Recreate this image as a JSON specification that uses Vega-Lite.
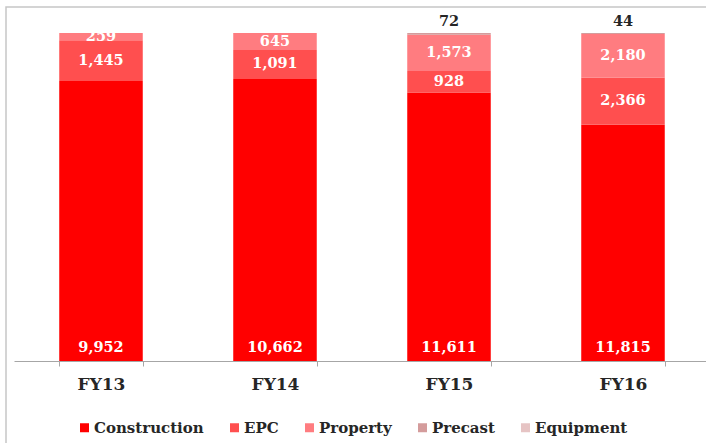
{
  "$schema": "https://vega.github.io/schema/vega-lite/v6.json",
  "width": 720,
  "height": 450,
  "autosize": {"type": "none"},
  "padding": {"left": 6, "top": 7, "right": 0, "bottom": 0},
  "background": "white",
  "config": {
    "view": {"stroke": "#C6C6C6", "strokeWidth": 1.5},
    "font": "DejaVu Serif"
  },
  "data": {
    "values": [
      {"year": "FY13", "segment": "Construction", "value": 9952},
      {"year": "FY13", "segment": "EPC", "value": 1445},
      {"year": "FY13", "segment": "Property", "value": 259},
      {"year": "FY14", "segment": "Construction", "value": 10662},
      {"year": "FY14", "segment": "EPC", "value": 1091},
      {"year": "FY14", "segment": "Property", "value": 645},
      {"year": "FY15", "segment": "Construction", "value": 11611},
      {"year": "FY15", "segment": "EPC", "value": 928},
      {"year": "FY15", "segment": "Property", "value": 1573},
      {"year": "FY15", "segment": "Precast", "value": 72},
      {"year": "FY16", "segment": "Construction", "value": 11815},
      {"year": "FY16", "segment": "EPC", "value": 2366},
      {"year": "FY16", "segment": "Property", "value": 2180},
      {"year": "FY16", "segment": "Precast", "value": 44}
    ]
  },
  "transform": [
    {"calculate": "indexof(['Construction','EPC','Property','Precast','Equipment'], datum.segment)", "as": "rank"},
    {"stack": "value", "groupby": ["year"], "sort": [{"field": "rank", "order": "ascending"}], "offset": "normalize", "as": ["y0", "y1"]},
    {"calculate": "(datum.y0 + datum.y1) / 2", "as": "ymid"}
  ],
  "encoding": {
    "x": {
      "field": "year",
      "type": "nominal",
      "scale": {"range": [8, 704], "paddingInner": 0.52, "paddingOuter": 0.26},
      "axis": {
        "title": null,
        "orient": "bottom",
        "offset": -96,
        "labelAngle": 0,
        "labelFontSize": 17,
        "labelFontWeight": "bold",
        "labelColor": "#262626",
        "labelPadding": 10,
        "domainColor": "#A6A6A6",
        "tickColor": "#A6A6A6",
        "tickSize": 5,
        "tickBand": "extent",
        "grid": false
      }
    }
  },
  "layer": [
    {
      "mark": {"type": "bar"},
      "encoding": {
        "y": {"field": "y0", "type": "quantitative", "scale": {"domain": [0, 1], "range": [354, 26], "nice": false, "zero": false}, "axis": null},
        "y2": {"field": "y1"},
        "color": {
          "field": "segment",
          "type": "nominal",
          "scale": {
            "domain": ["Construction", "EPC", "Property", "Precast", "Equipment"],
            "range": ["#FF0000", "#FF4F4F", "#FF7C80", "#D49C9C", "#E6C4C4"]
          },
          "legend": {
            "title": null,
            "orient": "none",
            "direction": "horizontal",
            "columns": 5,
            "legendX": 71,
            "legendY": 413,
            "padding": 0,
            "symbolType": "square",
            "symbolSize": 81,
            "symbolStrokeWidth": 0,
            "labelFontSize": 15,
            "labelFontWeight": "bold",
            "labelColor": "#262626",
            "labelOffset": 2,
            "columnPadding": 23
          }
        }
      }
    },
    {
      "transform": [{"filter": "datum.segment === 'EPC' || datum.segment === 'Property'"}],
      "mark": {"type": "text", "color": "white", "fontSize": 14.5, "fontWeight": "bold", "baseline": "middle"},
      "encoding": {
        "y": {"field": "ymid", "type": "quantitative"},
        "text": {"field": "value", "type": "quantitative", "format": ",.0f"}
      }
    },
    {
      "transform": [{"filter": "datum.segment === 'Construction'"}],
      "mark": {"type": "text", "color": "white", "fontSize": 14.5, "fontWeight": "bold", "baseline": "middle", "dy": -13},
      "encoding": {
        "y": {"field": "y0", "type": "quantitative"},
        "text": {"field": "value", "type": "quantitative", "format": ",.0f"}
      }
    },
    {
      "transform": [{"filter": "datum.segment === 'Precast'"}],
      "mark": {"type": "text", "color": "#262626", "fontSize": 14.5, "fontWeight": "bold", "baseline": "middle", "dy": -11},
      "encoding": {
        "y": {"field": "y1", "type": "quantitative"},
        "text": {"field": "value", "type": "quantitative", "format": ",.0f"}
      }
    }
  ]
}
